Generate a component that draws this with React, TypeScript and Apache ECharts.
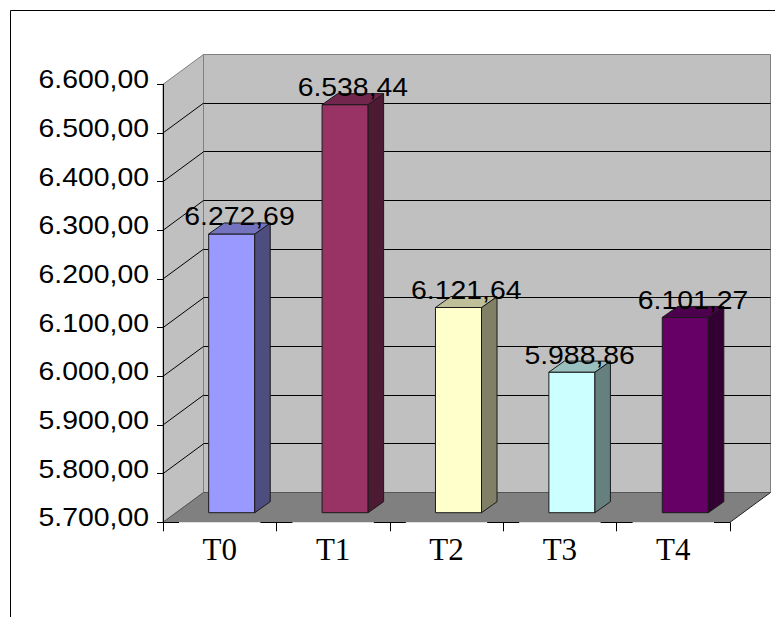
import React, { useEffect, useRef } from "react";
import * as echarts from "echarts";

// Mean values per treatment
const CATEGORIES = ["T0", "T1", "T2", "T3", "T4"];
const VALUES = [6272.69, 6538.44, 6121.64, 5988.86, 6101.27];
const FRONT_COLORS = ["#9999FF", "#993366", "#FFFFCC", "#CCFFFF", "#660066"];

// Value axis
const Y_MIN = 5700;
const Y_MAX = 6600;
const Y_STEP = 100;
const Y_TICKS = [5700, 5800, 5900, 6000, 6100, 6200, 6300, 6400, 6500, 6600];

// 3D projection of the plot box (depth of walls) and of the columns
const DX = 40.5;
const DY = -29.8;
const OX = 12; // column front face offset from the front plane
const OY = -9.6;
const SDX = 15.5; // column depth
const SDY = -11;
const BAR_RATIO = 0.406;

const NUM_FONT = "Liberation Sans, Arial, sans-serif";
const NUM_SIZE = 25;
const NUM_SCALE_X = 1.135;

function fmt(v: number): string {
  const [i, d] = v.toFixed(2).split(".");
  return i.replace(/\B(?=(\d{3})+(?!\d))/g, ".") + "," + d;
}

function shade(hex: string, f: number): string {
  const n = parseInt(hex.slice(1), 16);
  const r = Math.round(((n >> 16) & 255) * f);
  const g = Math.round(((n >> 8) & 255) * f);
  const b = Math.round((n & 255) * f);
  return "rgb(" + r + "," + g + "," + b + ")";
}

const crisp = (v: number) => Math.round(v - 0.5) + 0.5;

function line(x1: number, y1: number, x2: number, y2: number, stroke: string) {
  return {
    type: "line",
    shape: { x1, y1, x2, y2 },
    style: { stroke, lineWidth: 1 },
  };
}

export default function App() {
  const ref = useRef<HTMLDivElement>(null);

  useEffect(() => {
    if (!ref.current) return;
    const chart = echarts.init(ref.current, null, { renderer: "svg" });

    const wallsRender = (params: any, api: any) => {
      const cs = params.coordSys;
      const L = cs.x;
      const R = cs.x + cs.width;
      const T = cs.y;
      const B = cs.y + cs.height;
      const children: any[] = [];
      // side wall
      children.push({
        type: "polygon",
        shape: { points: [[L, T], [L + DX, T + DY], [L + DX, B + DY], [L, B]] },
        style: { fill: "#C0C0C0", stroke: "#808080", lineWidth: 1 },
      });
      // back wall
      children.push({
        type: "polygon",
        shape: {
          points: [[L + DX, T + DY], [R + DX, T + DY], [R + DX, B + DY], [L + DX, B + DY]],
        },
        style: { fill: "#C0C0C0", stroke: "#808080", lineWidth: 1 },
      });
      // floor
      children.push({
        type: "polygon",
        shape: { points: [[L, B], [L + DX, B + DY], [R + DX, B + DY], [R, B]] },
        style: { fill: "#808080" },
      });
      children.push(line(L + DX, crisp(B + DY), R + DX, crisp(B + DY), "#555555"));
      children.push(line(L, B, L + DX, B + DY, "#555555"));
      children.push(line(R, B, R + DX, B + DY, "#222222"));
      // gridlines on side and back walls
      Y_TICKS.forEach((t) => {
        if (t <= Y_MIN || t >= Y_MAX) return;
        const y = api.coord([0, t])[1];
        children.push(line(L, y, L + DX, y + DY, "#000000"));
        children.push(line(L + DX, crisp(y + DY), R + DX, crisp(y + DY), "#000000"));
      });
      // short segments of the category axis around each tick
      const n = CATEGORIES.length;
      const bw = cs.width / n;
      for (let i = 0; i <= n; i++) {
        const x = L + i * bw;
        children.push(
          line(Math.max(L, x - 16), crisp(B), Math.min(R, x + 16), crisp(B), "#000000")
        );
      }
      return { type: "group", children };
    };

    const barsRender = (params: any, api: any) => {
      const idx = api.value(0);
      const val = api.value(1);
      const base = api.coord([idx, Y_MIN]);
      const top = api.coord([idx, val]);
      const bw = api.size([1, 0])[0];
      const W = bw * BAR_RATIO;
      const xl = base[0] + OX - W / 2;
      const xr = xl + W;
      const yb = base[1] + OY;
      const yt = top[1] + OY;
      const c = FRONT_COLORS[params.dataIndex];
      const edge = { stroke: "#1a1a1a", lineWidth: 1 };
      return {
        type: "group",
        children: [
          {
            type: "polygon",
            shape: { points: [[xl, yb], [xl, yt], [xr, yt], [xr, yb]] },
            style: { fill: c, ...edge },
          },
          {
            type: "polygon",
            shape: { points: [[xr, yt], [xr + SDX, yt + SDY], [xr + SDX, yb + SDY], [xr, yb]] },
            style: { fill: shade(c, 0.5), ...edge },
          },
          {
            type: "polygon",
            shape: { points: [[xl, yt], [xl + SDX, yt + SDY], [xr + SDX, yt + SDY], [xr, yt]] },
            style: { fill: shade(c, 0.75), ...edge },
          },
        ],
      };
    };

    const labelsRender = (params: any, api: any) => {
      const idx = api.value(0);
      const val = api.value(1);
      const top = api.coord([idx, val]);
      return {
        type: "text",
        x: top[0] + OX + SDX / 2,
        y: top[1] + OY - 17,
        scaleX: NUM_SCALE_X,
        style: {
          text: fmt(val),
          fill: "#000000",
          fontSize: NUM_SIZE,
          fontFamily: NUM_FONT,
          align: "center",
          verticalAlign: "middle",
        },
      };
    };

    const yLabelsRender = (params: any, api: any) => {
      const cs = params.coordSys;
      const t = api.value(1);
      const y = api.coord([0, t])[1];
      return {
        type: "text",
        x: cs.x - 14,
        y: y - 4.5,
        scaleX: NUM_SCALE_X,
        style: {
          text: fmt(t),
          fill: "#000000",
          fontSize: NUM_SIZE,
          fontFamily: NUM_FONT,
          align: "right",
          verticalAlign: "middle",
        },
      };
    };

    chart.setOption({
      animation: false,
      backgroundColor: "#FFFFFF",
      graphic: [
        {
          type: "rect",
          silent: true,
          shape: { x: 10.5, y: 10.5, width: 900, height: 900 },
          style: { fill: "none", stroke: "#000000", lineWidth: 1 },
        },
      ],
      grid: { left: 163, top: 84.3, width: 567, height: 438, containLabel: false },
      xAxis: {
        type: "category",
        data: CATEGORIES,
        z: 5,
        axisLine: { show: false },
        axisTick: { show: true, length: 9, lineStyle: { color: "#000000", width: 1 } },
        axisLabel: {
          fontFamily: "Liberation Serif, Times New Roman, serif",
          fontSize: 31,
          color: "#000000",
          margin: 12,
        },
        splitLine: { show: false },
      },
      yAxis: {
        type: "value",
        min: Y_MIN,
        max: Y_MAX,
        interval: Y_STEP,
        z: 5,
        axisLine: { show: true, lineStyle: { color: "#000000", width: 1 } },
        axisTick: { show: true, length: 6, lineStyle: { color: "#000000", width: 1 } },
        axisLabel: { show: false },
        splitLine: { show: false },
      },
      series: [
        {
          type: "custom",
          name: "walls",
          z: 1,
          clip: false,
          silent: true,
          data: [[0, Y_MIN]],
          renderItem: wallsRender,
        },
        {
          type: "custom",
          name: "bars",
          z: 2,
          clip: false,
          data: VALUES.map((v, i) => [i, v]),
          renderItem: barsRender,
        },
        {
          type: "custom",
          name: "labels",
          z: 3,
          clip: false,
          silent: true,
          data: VALUES.map((v, i) => [i, v]),
          renderItem: labelsRender,
        },
        {
          type: "custom",
          name: "yLabels",
          z: 3,
          clip: false,
          silent: true,
          data: Y_TICKS.map((t) => [0, t]),
          renderItem: yLabelsRender,
        },
      ],
    });

    return () => chart.dispose();
  }, []);

  return (
    <div
      ref={ref}
      style={{ position: "fixed", left: 0, top: 0, width: 775, height: 617, background: "#FFFFFF" }}
    />
  );
}
